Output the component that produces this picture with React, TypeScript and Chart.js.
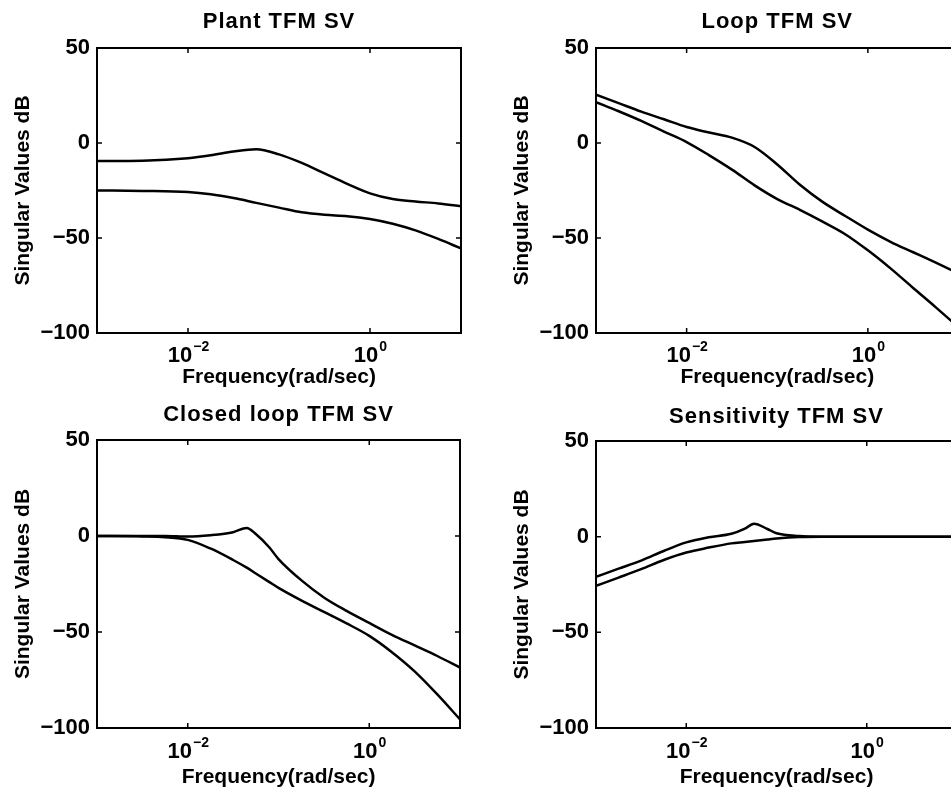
import React, { useEffect, useRef } from "react";
import { Chart, registerables } from "chart.js";

Chart.register(...registerables);

const FONT = '"Liberation Sans", Arial, Helvetica, sans-serif';

// ---- axis ticks ----
const xTickValues = [0.01, 1];
const xTickBase = "10";
const xTickExponents = ["\u22122", "0"];
const yTickValues = [-100, -50, 0, 50];

// ---- Plant TFM SV ----
const plantFreqExp = [-3, -2.5, -2, -1.75, -1.5, -1.25, -1, -0.75, -0.5, -0.25, 0, 0.25, 0.5, 0.75, 1];
const plantUpper = [-9.5, -9.3, -8, -6.5, -4.5, -3.3, -6, -10.5, -16, -21.5, -26.5, -29.5, -30.8, -31.8, -33.3];
const plantLower = [-25, -25.2, -25.8, -27, -29, -31.5, -34, -36.5, -37.8, -38.5, -40, -42.5, -46, -50.5, -55.5];

// ---- Loop TFM SV ----
const loopFreqExp = [-3, -2.75, -2.5, -2.25, -2, -1.75, -1.5, -1.25, -1, -0.75, -0.5, -0.25, 0, 0.25, 0.5, 0.75, 1];
const loopUpper = [25.5, 21, 16.5, 12.5, 8.4, 5.5, 2.8, -2.1, -11.3, -22, -31, -38.4, -45.6, -52, -57.5, -63, -68.6];
const loopLower = [21.5, 16.7, 11.6, 6, 0.5, -6.5, -14, -22.3, -29.5, -35.2, -41.4, -48, -56.5, -66, -76.3, -86.5, -97];

// ---- Closed loop TFM SV ----
const closedFreqExp = [-3, -2.5, -2.25, -2, -1.75, -1.5, -1.35, -1.25, -1.1, -1, -0.75, -0.5, -0.25, 0, 0.25, 0.5, 0.75, 1];
const closedUpper = [0, 0, 0, -0.3, 0.4, 2, 4.2, 1, -6, -12, -23, -32, -39, -45.3, -51.5, -57, -62.5, -68.5];
const closedLower = [0, -0.2, -0.6, -2, -6.5, -12.5, -16.5, -19.5, -24, -27, -33.5, -39.5, -45.5, -52, -60.5, -70.5, -82.5, -95.5];

// ---- Sensitivity TFM SV ----
const sensFreqExp = [-3, -2.75, -2.5, -2.25, -2, -1.75, -1.5, -1.35, -1.25, -1.1, -1, -0.75, -0.5, -0.25, 0, 0.5, 1];
const sensUpper = [-21, -16.7, -12.5, -7.5, -3, -0.3, 1.5, 4.2, 6.8, 4, 1.8, 0.3, 0, 0, 0, 0, 0];
const sensLower = [-25.7, -21.4, -17, -12.2, -8.3, -5.7, -3.5, -2.8, -2.3, -1.5, -1, -0.2, 0, 0, 0, 0, 0];

const titles = ["Plant TFM SV", "Loop TFM SV", "Closed loop TFM SV", "Sensitivity TFM SV"];
const xAxisTitle = "Frequency(rad/sec)";
const yAxisTitle = "Singular Values dB";

type Layout = {
  left: number; top: number; w: number; h: number;
  L: number; T: number; R: number; B: number;
  yTitlePad: number; xTitlePad: number; titleY: number; tickOff: number;
};

const layouts: Layout[] = [
  { left: 0, top: 0, w: 476, h: 400, L: 97, T: 48, R: 461, B: 333, yTitlePad: 10.4, xTitlePad: 10, titleY: 22, tickOff: 23 },
  { left: 476, top: 0, w: 500, h: 400, L: 120, T: 48, R: 482.5, B: 333, yTitlePad: 33.4, xTitlePad: 10, titleY: 22, tickOff: 23 },
  { left: 0, top: 400, w: 476, h: 397, L: 97, T: 40, R: 460, B: 328, yTitlePad: 10.4, xTitlePad: 7.5, titleY: 15, tickOff: 24 },
  { left: 476, top: 400, w: 500, h: 397, L: 120, T: 41, R: 481, B: 328, yTitlePad: 33.4, xTitlePad: 7.5, titleY: 17, tickOff: 24 },
];

const panelData = [
  { exp: plantFreqExp, upper: plantUpper, lower: plantLower },
  { exp: loopFreqExp, upper: loopUpper, lower: loopLower },
  { exp: closedFreqExp, upper: closedUpper, lower: closedLower },
  { exp: sensFreqExp, upper: sensUpper, lower: sensLower },
];

const fmtY = (v: number) => (v < 0 ? "\u2212" + Math.abs(v) : String(v));

const framePlugin = {
  id: "frame",
  afterDraw(chart: any, _args: any, opts: any) {
    const { ctx, chartArea } = chart;
    const { left, top, right, bottom } = chartArea;
    const xs = chart.scales.x;
    const ys = chart.scales.y;
    ctx.save();
    ctx.strokeStyle = "#000";
    ctx.lineWidth = 2;
    ctx.strokeRect(left, top, right - left, bottom - top);
    ctx.lineWidth = 1.5;
    ctx.beginPath();
    for (const v of xTickValues) {
      const px = xs.getPixelForValue(v);
      ctx.moveTo(px, bottom);
      ctx.lineTo(px, bottom - 5);
      ctx.moveTo(px, top);
      ctx.lineTo(px, top + 5);
    }
    for (const v of yTickValues) {
      const py = ys.getPixelForValue(v);
      ctx.moveTo(left, py);
      ctx.lineTo(left + 5, py);
      ctx.moveTo(right, py);
      ctx.lineTo(right - 5, py);
    }
    ctx.stroke();

    ctx.fillStyle = "#000";
    ctx.textBaseline = "middle";
    ctx.textAlign = "left";
    const baseFont = `bold 22px ${FONT}`;
    const expFont = `bold 14px ${FONT}`;
    xTickValues.forEach((v, i) => {
      const px = xs.getPixelForValue(v);
      ctx.font = baseFont;
      const wb = ctx.measureText(xTickBase).width;
      ctx.font = expFont;
      const we = ctx.measureText(xTickExponents[i]).width;
      const start = px - (wb + we) / 2;
      ctx.font = baseFont;
      ctx.fillText(xTickBase, start, bottom + opts.tickOff);
      ctx.font = expFont;
      ctx.fillText(xTickExponents[i], start + wb + 1, bottom + opts.tickOff - 9);
    });

    ctx.font = `bold 22px ${FONT}`;
    try {
      (ctx as any).letterSpacing = "1px";
    } catch (e) {}
    ctx.textAlign = "center";
    ctx.fillText(opts.title, (left + right) / 2, opts.titleY);
    try {
      (ctx as any).letterSpacing = "0px";
    } catch (e) {}
    ctx.restore();
  },
};

function Panel({ idx }: { idx: number }) {
  const ref = useRef<HTMLCanvasElement | null>(null);
  const lay = layouts[idx];
  useEffect(() => {
    const d = panelData[idx];
    const mk = (vals: number[]) => d.exp.map((e, i) => ({ x: Math.pow(10, e), y: vals[i] }));
    const ds = (vals: number[]) => ({
      data: mk(vals),
      borderColor: "#000",
      borderWidth: 2.5,
      pointRadius: 0,
      fill: false,
      cubicInterpolationMode: "monotone" as const,
    });
    const chart = new Chart(ref.current as HTMLCanvasElement, {
      type: "line",
      data: { datasets: [ds(d.upper), ds(d.lower)] },
      plugins: [framePlugin as any],
      options: {
        animation: false,
        responsive: false,
        events: [],
        layout: { padding: { left: 0, top: lay.T, right: lay.w - lay.R, bottom: 0 } },
        plugins: {
          legend: { display: false },
          tooltip: { enabled: false },
          title: { display: false },
          frame: { title: titles[idx], titleY: lay.titleY, tickOff: lay.tickOff },
        } as any,
        scales: {
          x: {
            type: "logarithmic",
            min: 1e-3,
            max: 10,
            ticks: { display: false },
            grid: { display: false, drawTicks: false },
            border: { display: false },
            title: {
              display: true,
              text: xAxisTitle,
              color: "#000",
              font: { family: FONT, size: 21, weight: "bold" },
              padding: { top: 0, bottom: lay.xTitlePad },
            },
            afterFit: (s: any) => {
              s.height = lay.h - lay.B;
            },
          },
          y: {
            type: "linear",
            min: -100,
            max: 50,
            afterBuildTicks: (s: any) => {
              s.ticks = yTickValues.map((v) => ({ value: v }));
            },
            ticks: {
              color: "#000",
              padding: 7,
              font: { family: FONT, size: 22, weight: "bold" },
              callback: (v: any) => fmtY(Number(v)),
            },
            grid: { display: false, drawTicks: false },
            border: { display: false },
            title: {
              display: true,
              text: yAxisTitle,
              color: "#000",
              font: { family: FONT, size: 21, weight: "bold" },
              padding: { top: lay.yTitlePad, bottom: 0 },
            },
            afterFit: (s: any) => {
              s.width = lay.L;
            },
          },
        },
      } as any,
    });
    return () => chart.destroy();
  }, [idx]);
  return (
    <canvas
      ref={ref}
      width={lay.w}
      height={lay.h}
      style={{ position: "absolute", left: lay.left, top: lay.top, width: lay.w, height: lay.h, display: "block" }}
    />
  );
}

export default function App() {
  return (
    <div
      style={{
        position: "absolute",
        left: 0,
        top: 0,
        width: 951,
        height: 797,
        overflow: "hidden",
        background: "#fff",
      }}
    >
      {layouts.map((_, i) => (
        <Panel key={i} idx={i} />
      ))}
    </div>
  );
}
